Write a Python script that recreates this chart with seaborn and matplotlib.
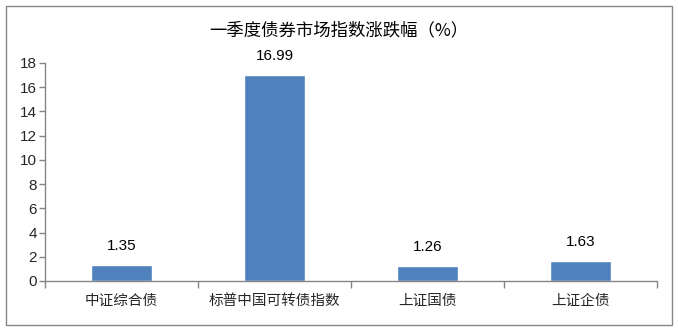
import matplotlib
matplotlib.use("Agg")
import matplotlib.pyplot as plt
import seaborn as sns
import pandas as pd
from matplotlib.patches import Rectangle

categories = ["中证综合债", "标普中国可转债指数", "上证国债", "上证企债"]
values = [1.35, 16.99, 1.26, 1.63]
title = "一季度债券市场指数涨跌幅（%）"

sns.set_theme(style="white")
plt.rcParams['font.family'] = ['Noto Sans CJK SC', 'DejaVu Sans']

df = pd.DataFrame({"cat": categories, "val": values})

fig = plt.figure(figsize=(6.78, 3.31), dpi=100)
ax = fig.add_axes([45/678, 1-281/331, (657-45)/678, (281-63)/331])
sns.barplot(data=df, x="cat", y="val", color="#4F81BD", saturation=1, width=0.4, ax=ax)

ax.set_xlim(-0.5, len(categories)-0.5)
ax.set_ylim(0, 18)
ax.set_yticks(range(0, 19, 2))
ax.set_xlabel("")
ax.set_ylabel("")
for s in ["top", "right"]:
    ax.spines[s].set_visible(False)
for s in ["left", "bottom"]:
    ax.spines[s].set_color("#868686")
    ax.spines[s].set_linewidth(1)

ax.tick_params(axis="y", which="major", length=4, width=1, color="#868686",
               labelsize=11, pad=2, left=True)
for lab in ax.get_yticklabels():
    lab.set_fontfamily(["Liberation Sans", "DejaVu Sans"])
ax.set_xticks([i - 0.5 for i in range(len(categories)+1)], minor=True)
ax.tick_params(axis="x", which="minor", length=5, width=1, color="#868686", bottom=True)
ax.tick_params(axis="x", which="major", length=0, labelsize=10.5, pad=9)

for i, v in enumerate(values):
    ax.annotate(f"{v:.2f}", (i, v), xytext=(0, 8.5), textcoords="offset points",
                ha="center", va="bottom", fontsize=11,
                fontfamily=["Liberation Sans", "DejaVu Sans"], color="#000000")

fig.text(0.5, 1-30/331, title, ha="center", va="center", fontsize=12.5, color="#000000")

fig.patches.append(Rectangle((6/678, 6/331), 666/678, 319/331, transform=fig.transFigure,
                             fill=False, edgecolor="#868686", linewidth=1))

fig.savefig("out.png", dpi=100)
